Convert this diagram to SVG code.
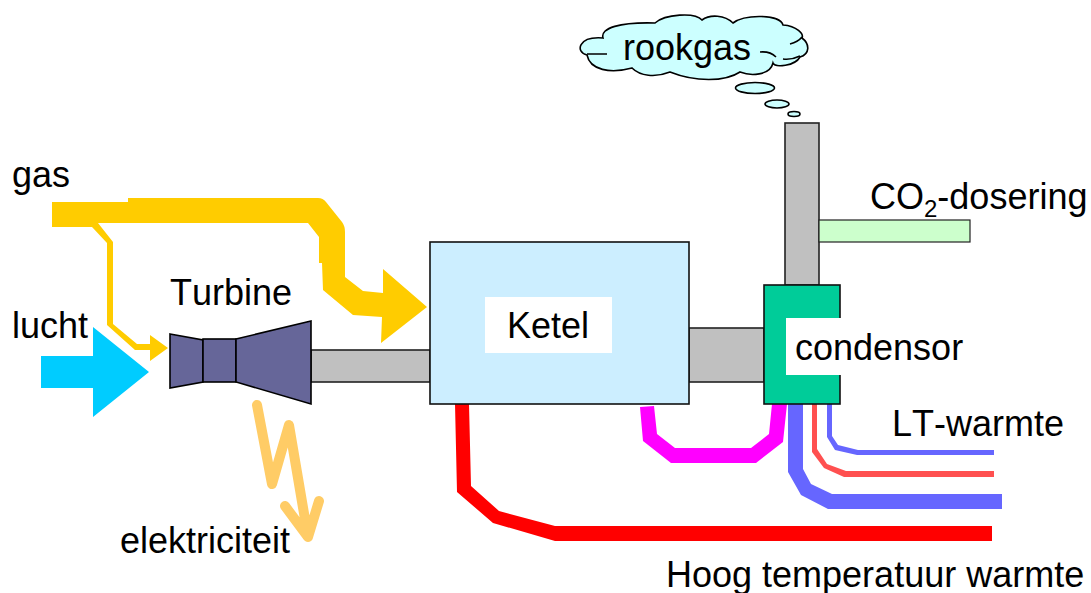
<svg xmlns="http://www.w3.org/2000/svg" width="1091" height="593" viewBox="0 0 1091 593">
<style>
text{font-family:"Liberation Sans",Arial,sans-serif;font-size:36px;fill:#000;font-kerning:none}
.box{stroke:#111;stroke-width:1.6}
.pipe{fill:#c0c0c0;stroke:#222;stroke-width:1.6}
.turb{fill:#666699;stroke:#000;stroke-width:1.6}
.cl{fill:#ccffff;stroke:#000;stroke-width:1.6}
</style>
<rect width="1091" height="593" fill="#fff"/>
<g id="connectors">
<path id="gas-flow" fill="#ffcc00" d="M52 202H128V198H318Q323 198 326 202L342 222Q345 226 345 232V277L363 291L383 293V269L427 307L381 343L382 317L353 315L323 290L322 263H319V237L308 223H98L113 242V324L137 344H150V335L168 348L150 361V350H135L107 325V243L92 227H52Z"/>
<path id="lucht-flow" fill="#00ccff" d="M41 356H93V327L149 372L93 417V388H41Z"/>
<path id="lightning" fill="none" stroke="#ffcc66" stroke-width="10" stroke-linejoin="round" stroke-linecap="round" d="M257 405L272 484L289 425L308 537M285 506L308 537L319 501"/>
<path id="red-heat" fill="#ff0000" d="M455 404L457 492L493 523L555 541H992V526H555L499 511L471 486L469 404Z"/>
<path id="magenta-loop" fill="#ff00ff" d="M640 407L643 441L671 463H756L783 442L787 404H772L769 434L751 448H675L657 434L654 406Z"/>
<path id="blue-thick" fill="#6666ff" d="M788 403V472L801 495L828 509H1002V494H832L811 484L803 469V403Z"/>
<path id="red-thin" fill="#ff5050" d="M812 404V452L824 468L844 477H994V471H846L827 464L817 449V404Z"/>
<path id="blue-thin" fill="#6666ff" d="M827 404V437L835 450L857 455H994V450H858L838 445L832 436V404Z"/>
</g>
<g id="pipes">
<rect class="pipe" x="311" y="350" width="119" height="32"/>
<rect class="pipe" x="689" y="328" width="75" height="54"/>
<rect class="pipe" x="785" y="123" width="34" height="162"/>
<rect x="819" y="220" width="151" height="22" fill="#ccffcc" stroke="#222" stroke-width="1.2"/>
</g>
<g id="turbine">
<path class="turb" d="M170 334L203 340V382L170 388Z"/>
<rect class="turb" x="203" y="339" width="33" height="43"/>
<path class="turb" d="M236 339L311 321V404L236 382Z"/>
<text x="170" y="305">Turbine</text>
</g>
<g id="ketel">
<rect class="box" x="430" y="242" width="259" height="162" fill="#cceeff"/>
<rect x="485" y="297" width="127" height="56" fill="#fff"/>
<text x="507" y="338">Ketel</text>
</g>
<g id="condensor">
<rect class="box" x="764" y="285" width="76" height="119" fill="#00cc99"/>
<rect x="786" y="318" width="180" height="57" fill="#fff"/>
<text x="795" y="360">condensor</text>
</g>
<g id="rookgas">
<path class="cl" d="M603 38C600 28 620 22 655 23C665 14 695 12 702 20C710 14 725 15 733 23C745 14 780 14 783 25C797 26 804 34 802 38C810 44 810 54 800 57C795 66 775 68 773 63C770 76 750 76 740 72C725 82 695 82 670 72C655 78 640 76 632 68C610 74 590 70 587 55C575 52 578 36 603 38Z"/>
<path d="M587 54H607M760 52Q770 51 776 57M783 59Q792 60 800 56M790 44Q798 42 802 37" fill="none" stroke="#000" stroke-width="1.6"/>
<ellipse class="cl" cx="755" cy="88" rx="19.5" ry="5.5"/>
<ellipse class="cl" cx="777" cy="104" rx="12" ry="4"/>
<ellipse class="cl" cx="794" cy="114" rx="6" ry="2.5"/>
<text x="623" y="60">rookgas</text>
</g>
<g id="labels">
<text x="12" y="187">gas</text>
<text x="12" y="338">lucht</text>
<text x="120" y="553">elektriciteit</text>
<text x="870" y="209">CO<tspan font-size="24" dy="8">2</tspan><tspan dy="-8">-dosering</tspan></text>
<text x="892" y="436">LT-warmte</text>
<text x="666" y="587">Hoog temperatuur warmte</text>
</g>
</svg>
